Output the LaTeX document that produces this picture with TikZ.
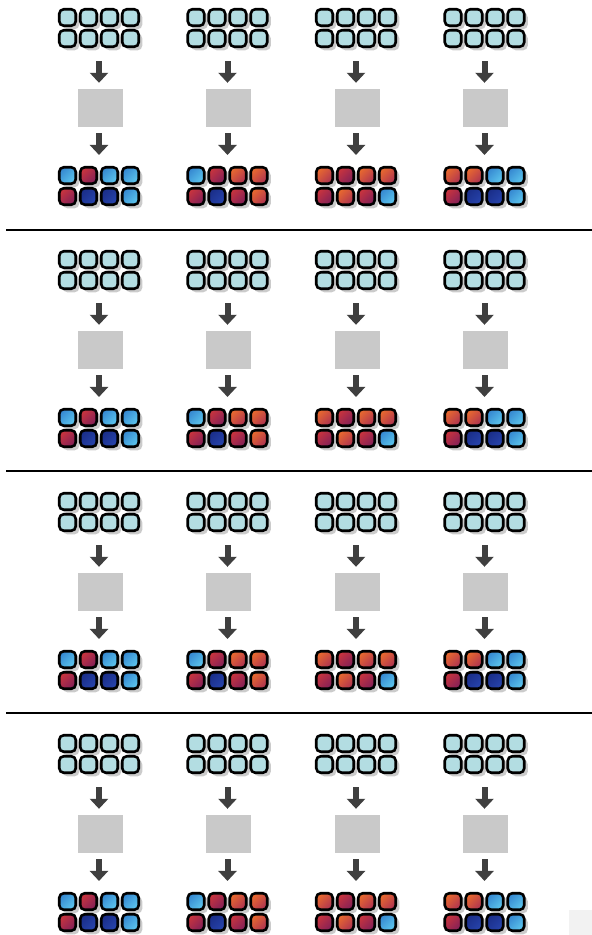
\documentclass[tikz,border=0pt]{standalone}
\usetikzlibrary{arrows.meta,shadows,shadings,fit}

% palette
\definecolor{inpcol}{HTML}{B3DDE2}
\definecolor{proccol}{HTML}{C9C9C9}
\definecolor{flowcol}{HTML}{3F3F3F}
\definecolor{ulLB}{HTML}{2F7CCB}
\definecolor{midLB}{HTML}{48A8E0}
\definecolor{lrLB}{HTML}{66D2F2}
\definecolor{ulR}{HTML}{D63838}
\definecolor{midR}{HTML}{A52A4C}
\definecolor{lrR}{HTML}{751C5C}
\definecolor{ulO}{HTML}{F27428}
\definecolor{midO}{HTML}{CE4E40}
\definecolor{lrO}{HTML}{A02858}
\definecolor{ulDB}{HTML}{182A82}
\definecolor{midDB}{HTML}{20389A}
\definecolor{lrDB}{HTML}{2A4AB4}

\begin{document}
\begin{tikzpicture}[x=1pt,y=-1pt,
  cell/.style={rectangle, rounded corners=4.5pt, minimum size=16.5pt, inner sep=0pt,
    draw=black, line width=2.6pt,
    drop shadow={shadow xshift=3.5pt, shadow yshift=-3.5pt, fill=black!40, opacity=0.5}},
  proc/.style={rectangle, minimum width=45pt, minimum height=38pt, inner sep=0pt, fill=proccol},
  flow/.style={draw=flowcol, line width=6pt, -{Triangle[width=18pt,length=10pt]}},
  grp/.style={inner sep=0pt, outer sep=0pt},
  rule/.style={line width=2pt, draw=black}]

\useasboundingbox (0,0) rectangle (592,935);
\fill[white] (0,0) rectangle (592,935);

% horizontal separators between the four bands
\foreach \yy in {230,471,713}
  \draw[rule] (6,\yy) -- (592,\yy);

% faint patch in the lower right corner
\fill[black!5] (569,910) rectangle (592,935);

\foreach \r in {0,...,3}{
  \foreach \c/\ta/\tb in {0/{LB,R,LB,LB}/{R,DB,DB,LB},
                          1/{LB,R,O,O}/{R,DB,R,O},
                          2/{O,R,O,O}/{R,O,R,LB},
                          3/{O,O,LB,LB}/{R,DB,DB,LB}}{
    \pgfmathsetmacro\cx{99+128.5*\c}
    \pgfmathsetmacro\oy{242*\r}
    % input block
    \foreach \i in {1,...,4}{
      \node[cell, fill=inpcol] (in-\r-\c-a\i) at ({\cx-52.5+21*\i},{\oy+17.5}) {};
      \node[cell, fill=inpcol] (in-\r-\c-b\i) at ({\cx-52.5+21*\i},{\oy+38.5}) {};
    }
    \node[grp, fit=(in-\r-\c-a1)(in-\r-\c-b4)] (ing-\r-\c) {};
    % processing box
    \node[proc] (proc-\r-\c) at ({\cx+1},{\oy+108}) {};
    % output block
    \foreach \t [count=\i] in \ta
      \node[cell, upper left=ul\t, upper right=mid\t, lower left=mid\t, lower right=lr\t]
        (out-\r-\c-a\i) at ({\cx-52.5+21*\i},{\oy+175.5}) {};
    \foreach \t [count=\i] in \tb
      \node[cell, upper left=ul\t, upper right=mid\t, lower left=mid\t, lower right=lr\t]
        (out-\r-\c-b\i) at ({\cx-52.5+21*\i},{\oy+196.5}) {};
    \node[grp, fit=(out-\r-\c-a1)(out-\r-\c-b4)] (outg-\r-\c) {};
    % arrows
    \draw[flow, shorten <=13pt, shorten >=6pt]
      (ing-\r-\c.south) -- (ing-\r-\c.south |- proc-\r-\c.north);
    \draw[flow, shorten <=6pt, shorten >=11pt]
      (outg-\r-\c.north |- proc-\r-\c.south) -- (outg-\r-\c.north);
  }
}
\end{tikzpicture}
\end{document}
